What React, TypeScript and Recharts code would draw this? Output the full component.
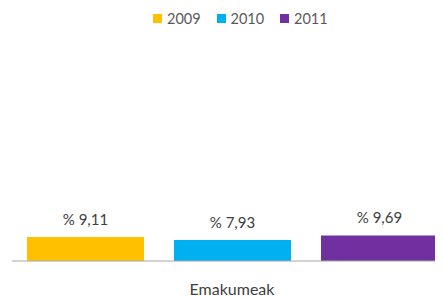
import { BarChart, Bar, XAxis, YAxis, LabelList } from "recharts";

const categories = ["Emakumeak"];
const years = ["2009", "2010", "2011"];
const values = [9.11, 7.93, 9.69];
const colors = ["#FFC000", "#00B0F0", "#7030A0"];

const data = categories.map((name) => {
  const row: Record<string, string | number> = { name };
  years.forEach((y, i) => {
    row[y] = values[i];
  });
  return row;
});

const fmt = (v: number) => `% ${v.toFixed(2).replace(".", ",")}`;

const font = "Lato, 'Open Sans', sans-serif";

export default function App() {
  return (
    <div
      style={{
        position: "relative",
        margin: "-8px 0 0 -8px",
        width: 443,
        height: 297,
        overflow: "hidden",
        background: "#fff",
        fontFamily: font,
      }}
    >
      <div
        style={{
          position: "absolute",
          top: 10,
          left: 153,
          display: "flex",
          alignItems: "center",
          fontSize: 14.5,
          color: "#595959",
        }}
      >
        {years.map((y, i) => (
          <div key={y} style={{ display: "flex", alignItems: "center", width: 63.5 }}>
            <span
              style={{
                display: "inline-block",
                width: 9,
                height: 9,
                background: colors[i],
                marginRight: 5,
              }}
            />
            <span>{y}</span>
          </div>
        ))}
      </div>
      <BarChart
        width={460}
        height={297}
        data={data}
        margin={{ top: 24, right: 8, bottom: 0, left: 12 }}
        barSize={117}
        barGap={30}
      >
        <XAxis
          dataKey="name"
          height={36}
          tickLine={false}
          axisLine={{ stroke: "#a6a6a6", strokeWidth: 1 }}
          tick={{ fill: "#404040", fontSize: 16, fontFamily: font }}
          tickMargin={17}
        />
        <YAxis hide domain={[0, 90]} />
        {years.map((y, i) => (
          <Bar key={y} dataKey={y} fill={colors[i]} isAnimationActive={false}>
            <LabelList
              dataKey={y}
              position="top"
              offset={12}
              formatter={(v: number) => fmt(v)}
              style={{ fill: "#404040", fontSize: 15, fontFamily: font }}
            />
          </Bar>
        ))}
      </BarChart>
    </div>
  );
}
